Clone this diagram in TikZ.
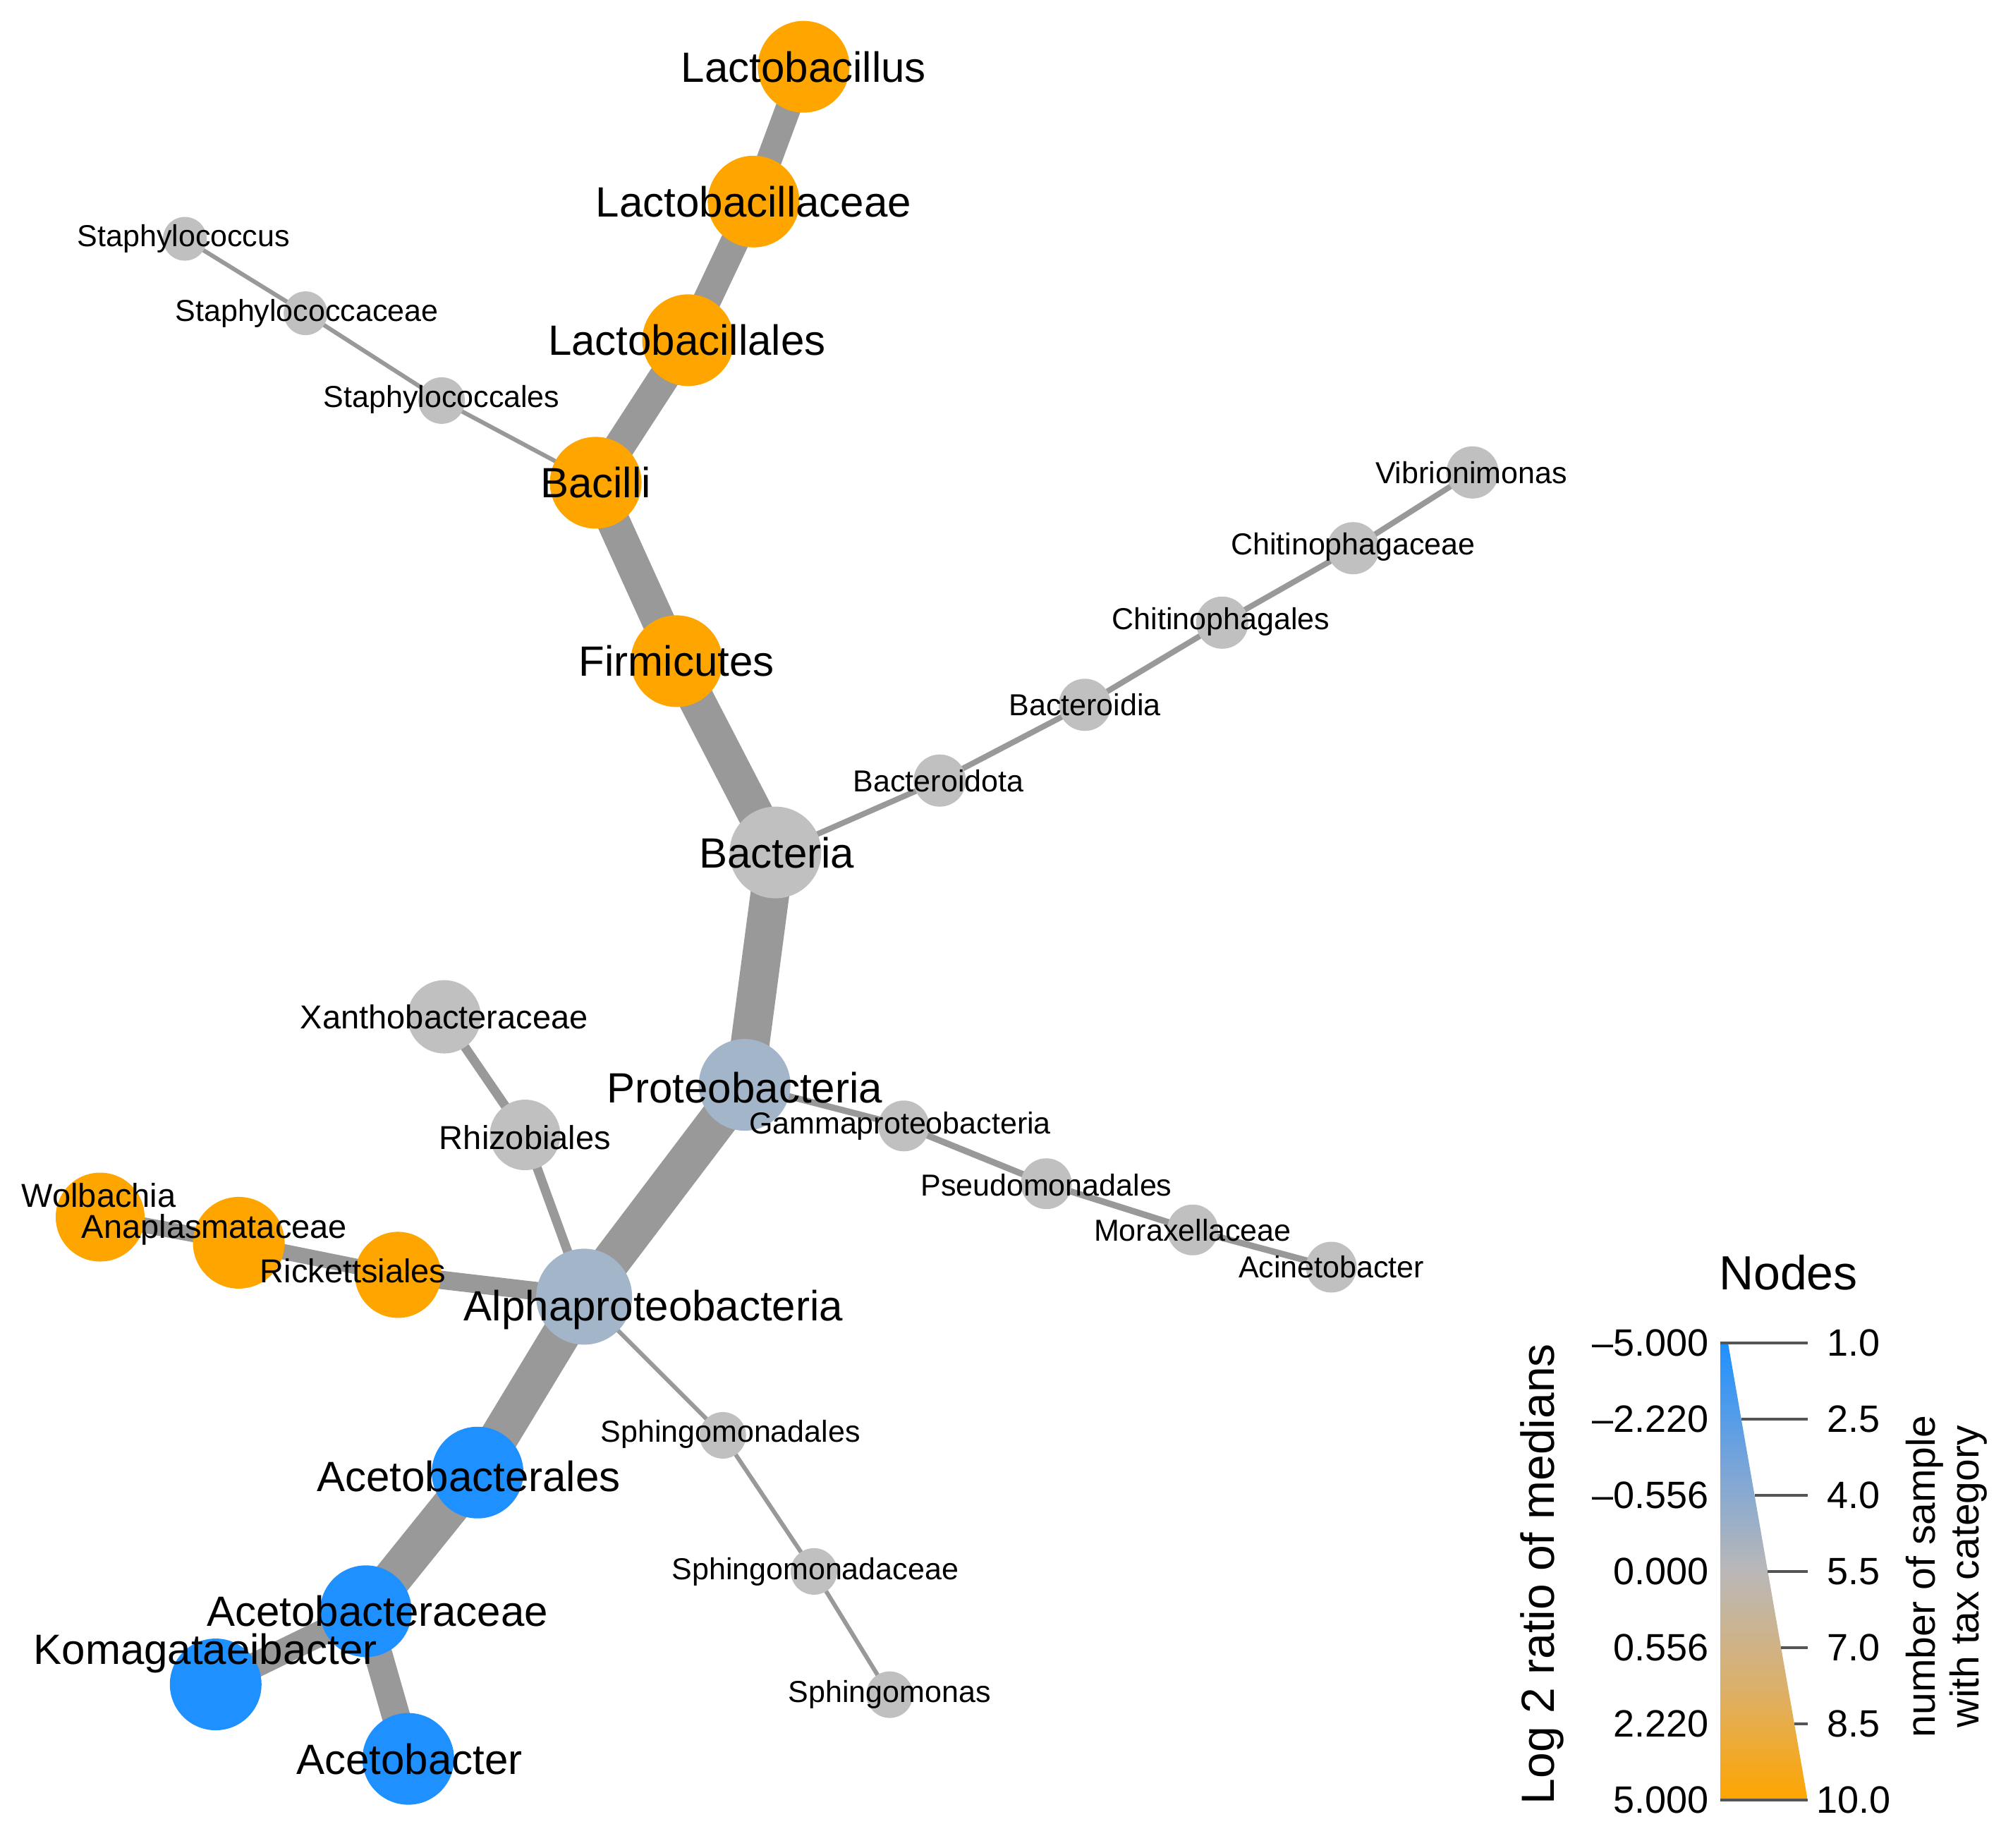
\documentclass[tikz,border=0pt]{standalone}
\usepackage{fontspec}
\setmainfont{Liberation Sans}
\definecolor{orng}{RGB}{255,165,0}
\definecolor{blu}{RGB}{30,144,255}
\definecolor{gry}{RGB}{192,192,192}
\definecolor{bgry}{RGB}{163,181,200}
\definecolor{edgec}{RGB}{153,153,153}
\definecolor{tickc}{RGB}{85,85,85}
\pgfdeclareverticalshading{legshade}{100bp}{rgb(0bp)=(1,0.647,0); rgb(25bp)=(1,0.647,0); rgb(37.5bp)=(0.86,0.69,0.42); rgb(50bp)=(0.73,0.72,0.72); rgb(62.5bp)=(0.45,0.64,0.86); rgb(75bp)=(0.118,0.565,1); rgb(100bp)=(0.118,0.565,1)}
\pgfdeclarelayer{edges}
\pgfdeclarelayer{labels}
\pgfsetlayers{edges,main,labels}
\begin{document}
\begin{tikzpicture}[x=1.8202pt,y=-1.8202pt,
  dot/.style={circle,inner sep=0pt,draw=none},
  big/.style={dot,minimum size=130pt},
  small/.style={dot,fill=gry,minimum size=70pt},
  blab/.style={inner sep=0pt,font=\fontsize{60}{62}\selectfont},
  slab/.style={inner sep=0pt,font=\fontsize{43}{45}\selectfont},
  edge/.style={draw=edgec,line cap=butt},
  tickl/.style={draw=tickc,line width=3.5pt},
  numl/.style={inner sep=0pt,font=\fontsize{54}{56}\selectfont}]
\useasboundingbox (0,0) rectangle (1568,1439);
% circles
\node[big,fill=orng] (lactobacillus) at (626,52) {};
\node[big,fill=orng] (lactobacillaceae) at (587,157) {};
\node[big,fill=orng] (lactobacillales) at (536,265) {};
\node[big,fill=orng] (bacilli) at (464,376) {};
\node[big,fill=orng] (firmicutes) at (527,515) {};
\node[big,fill=gry] (bacteria) at (604,664) {};
\node[big,fill=bgry] (proteo) at (580,845) {};
\node[big,fill=bgry,minimum size=136pt] (alpha) at (455,1010) {};
\node[big,fill=blu] (acetobacterales) at (372,1147) {};
\node[big,fill=blu] (acetobacteraceae) at (285,1255) {};
\node[big,fill=blu] (komaga) at (168,1312) {};
\node[big,fill=blu] (acetobacter) at (318,1370) {};
\node[big,fill=orng,minimum size=122pt] (ricketts) at (310,993) {};
\node[big,fill=orng] (anaplas) at (186,968) {};
\node[big,fill=orng,minimum size=126pt] (wolbachia) at (78,948) {};
\node[small,minimum size=62pt] (staphcoccus) at (144,186) {};
\node[small,minimum size=62pt] (staphaceae) at (238,244) {};
\node[small,minimum size=66pt] (staphales) at (344,312) {};
\node[small,minimum size=74pt] (vibrio) at (1147,368) {};
\node[small,minimum size=74pt] (chitaceae) at (1054,427) {};
\node[small,minimum size=74pt] (chitales) at (952,485) {};
\node[small,minimum size=74pt] (bacteroidia) at (845,549) {};
\node[small,minimum size=74pt] (bacteroidota) at (732,608) {};
\node[small,minimum size=104pt] (xantho) at (346,792) {};
\node[small,minimum size=100pt] (rhizo) at (409,884) {};
\node[small,minimum size=72pt] (gamma) at (704,877) {};
\node[small,minimum size=72pt] (pseudo) at (815,922) {};
\node[small,minimum size=72pt] (moraxe) at (929,958) {};
\node[small,minimum size=72pt] (acineto) at (1037,987) {};
\node[small,minimum size=66pt] (sphales) at (563,1118) {};
\node[small,minimum size=66pt] (sphaceae) at (634,1224) {};
\node[small,minimum size=66pt] (sphmonas) at (693,1320) {};
% edges
\begin{pgfonlayer}{edges}
\draw[edge,line width=36pt] (lactobacillus.center) -- (lactobacillaceae.center);
\draw[edge,line width=40pt] (lactobacillaceae.center) -- (lactobacillales.center);
\draw[edge,line width=44pt] (lactobacillales.center) -- (bacilli.center);
\draw[edge,line width=47pt] (bacilli.center) -- (firmicutes.center);
\draw[edge,line width=51pt] (firmicutes.center) -- (bacteria.center);
\draw[edge,line width=55pt] (bacteria.center) -- (proteo.center);
\draw[edge,line width=55pt] (proteo.center) -- (alpha.center);
\draw[edge,line width=55pt] (alpha.center) -- (acetobacterales.center);
\draw[edge,line width=55pt] (acetobacterales.center) -- (acetobacteraceae.center);
\draw[edge,line width=40pt] (acetobacteraceae.center) -- (acetobacter.center);
\draw[edge,line width=36pt] (acetobacteraceae.center) -- (komaga.center);
\draw[edge,line width=26pt] (alpha.center) -- (ricketts.center);
\draw[edge,line width=22pt] (ricketts.center) -- (anaplas.center);
\draw[edge,line width=22pt] (anaplas.center) -- (wolbachia.center);
\draw[edge,line width=13pt] (alpha.center) -- (rhizo.center);
\draw[edge,line width=13pt] (rhizo.center) -- (xantho.center);
\draw[edge,line width=6pt] (alpha.center) -- (sphales.center);
\draw[edge,line width=6pt] (sphales.center) -- (sphaceae.center);
\draw[edge,line width=6pt] (sphaceae.center) -- (sphmonas.center);
\draw[edge,line width=8pt] (bacteria.center) -- (bacteroidota.center);
\draw[edge,line width=8pt] (bacteroidota.center) -- (bacteroidia.center);
\draw[edge,line width=8pt] (bacteroidia.center) -- (chitales.center);
\draw[edge,line width=8pt] (chitales.center) -- (chitaceae.center);
\draw[edge,line width=8pt] (chitaceae.center) -- (vibrio.center);
\draw[edge,line width=9pt] (proteo.center) -- (gamma.center);
\draw[edge,line width=9pt] (gamma.center) -- (pseudo.center);
\draw[edge,line width=9pt] (pseudo.center) -- (moraxe.center);
\draw[edge,line width=9pt] (moraxe.center) -- (acineto.center);
\draw[edge,line width=6pt] (bacilli.center) -- (staphales.center);
\draw[edge,line width=6pt] (staphales.center) -- (staphaceae.center);
\draw[edge,line width=6pt] (staphaceae.center) -- (staphcoccus.center);
\end{pgfonlayer}
% labels
\begin{pgfonlayer}{labels}
\node[blab] (l1) at (626,52) {Lactobacillus};
\node[blab] (l2) at (587,157) {Lactobacillaceae};
\node[blab] (l3) at (535,265) {Lactobacillales};
\node[blab] (l4) at (464,376) {Bacilli};
\node[blab] (l5) at (527,515) {Firmicutes};
\node[blab] (l6) at (605,664) {Bacteria};
\node[blab] (l7) at (580,847) {Proteobacteria};
\node[blab] (l8) at (509,1020) {Alphaproteobacteria};
\node[blab] (l9) at (365,1150) {Acetobacterales};
\node[blab] (l10) at (294,1255) {Acetobacteraceae};
\node[blab] (l11) at (160,1288) {Komagataeibacter};
\node[blab] (l12) at (319,1370) {Acetobacter};
\node[slab,font=\fontsize{47}{49}\selectfont] (l13) at (275,990) {Rickettsiales};
\node[slab,font=\fontsize{47}{49}\selectfont] (l14) at (167,958) {Anaplasmataceae};
\node[slab,font=\fontsize{47}{49}\selectfont] (l15) at (77,931) {Wolbachia};
\node[slab] (l16) at (143,186) {Staphylococcus};
\node[slab] (l17) at (239,244) {Staphylococcaceae};
\node[slab] (l18) at (344,311) {Staphylococcales};
\node[slab] (l19) at (1146,368) {Vibrionimonas};
\node[slab] (l20) at (1054,426) {Chitinophagaceae};
\node[slab] (l21) at (951,484) {Chitinophagales};
\node[slab] (l22) at (845,549) {Bacteroidia};
\node[slab] (l23) at (731,608) {Bacteroidota};
\node[slab,font=\fontsize{47}{49}\selectfont] (l24) at (346,792) {Xanthobacteraceae};
\node[slab,font=\fontsize{47}{49}\selectfont] (l25) at (409,886) {Rhizobiales};
\node[slab] (l26) at (701,877) {Gammaproteobacteria};
\node[slab] (l27) at (815,923) {Pseudomonadales};
\node[slab] (l28) at (929,958) {Moraxellaceae};
\node[slab] (l29) at (1037,987) {Acinetobacter};
\node[slab] (l30) at (569,1117) {Sphingomonadales};
\node[slab] (l31) at (635,1224) {Sphingomonadaceae};
\node[slab] (l32) at (693,1320) {Sphingomonas};
\end{pgfonlayer}
% legend
\node[inner sep=0pt,font=\fontsize{68}{70}\selectfont] (ltitle) at (1393,991) {Nodes};
\shade[shading=legshade]
  (1340,1046) -- (1346,1046) -- (1408,1402) -- (1340,1402) -- cycle;
\coordinate (t0a) at (1340,1046); \coordinate (t0b) at (1408,1046);
\coordinate (t1a) at (1356.3,1105.3); \coordinate (t1b) at (1408,1105.3);
\coordinate (t2a) at (1366.7,1164.7); \coordinate (t2b) at (1408,1164.7);
\coordinate (t3a) at (1377,1224); \coordinate (t3b) at (1408,1224);
\coordinate (t4a) at (1387.3,1283.3); \coordinate (t4b) at (1408,1283.3);
\coordinate (t5a) at (1397.7,1342.7); \coordinate (t5b) at (1408,1342.7);
\coordinate (t6a) at (1340,1402); \coordinate (t6b) at (1408,1402);
\draw[tickl] (t0a) -- (t0b);
\draw[tickl] (t1a) -- (t1b);
\draw[tickl] (t2a) -- (t2b);
\draw[tickl] (t3a) -- (t3b);
\draw[tickl] (t4a) -- (t4b);
\draw[tickl] (t5a) -- (t5b);
\draw[tickl] (t6a) -- (t6b);
\node[numl,anchor=east] (a0) at (1331,1046) {–5.000};
\node[numl,anchor=east] (a1) at (1331,1105.3) {–2.220};
\node[numl,anchor=east] (a2) at (1331,1164.7) {–0.556};
\node[numl,anchor=east] (a3) at (1331,1224) {0.000};
\node[numl,anchor=east] (a4) at (1331,1283.3) {0.556};
\node[numl,anchor=east] (a5) at (1331,1342.7) {2.220};
\node[numl,anchor=east] (a6) at (1331,1402) {5.000};
\node[numl] (b0) at (1444,1046) {1.0};
\node[numl] (b1) at (1444,1105.3) {2.5};
\node[numl] (b2) at (1444,1164.7) {4.0};
\node[numl] (b3) at (1444,1224) {5.5};
\node[numl] (b4) at (1444,1283.3) {7.0};
\node[numl] (b5) at (1444,1342.7) {8.5};
\node[numl] (b6) at (1444,1402) {10.0};
\node[inner sep=0pt,rotate=90,font=\fontsize{66}{68}\selectfont] (ytitle) at (1201,1226) {Log 2 ratio of medians};
\node[inner sep=0pt,rotate=90,font=\fontsize{57}{59}\selectfont] (ztitle1) at (1499,1228) {number of sample};
\node[inner sep=0pt,rotate=90,font=\fontsize{57}{59}\selectfont] (ztitle2) at (1533,1228) {with tax category};
\end{tikzpicture}
\end{document}
